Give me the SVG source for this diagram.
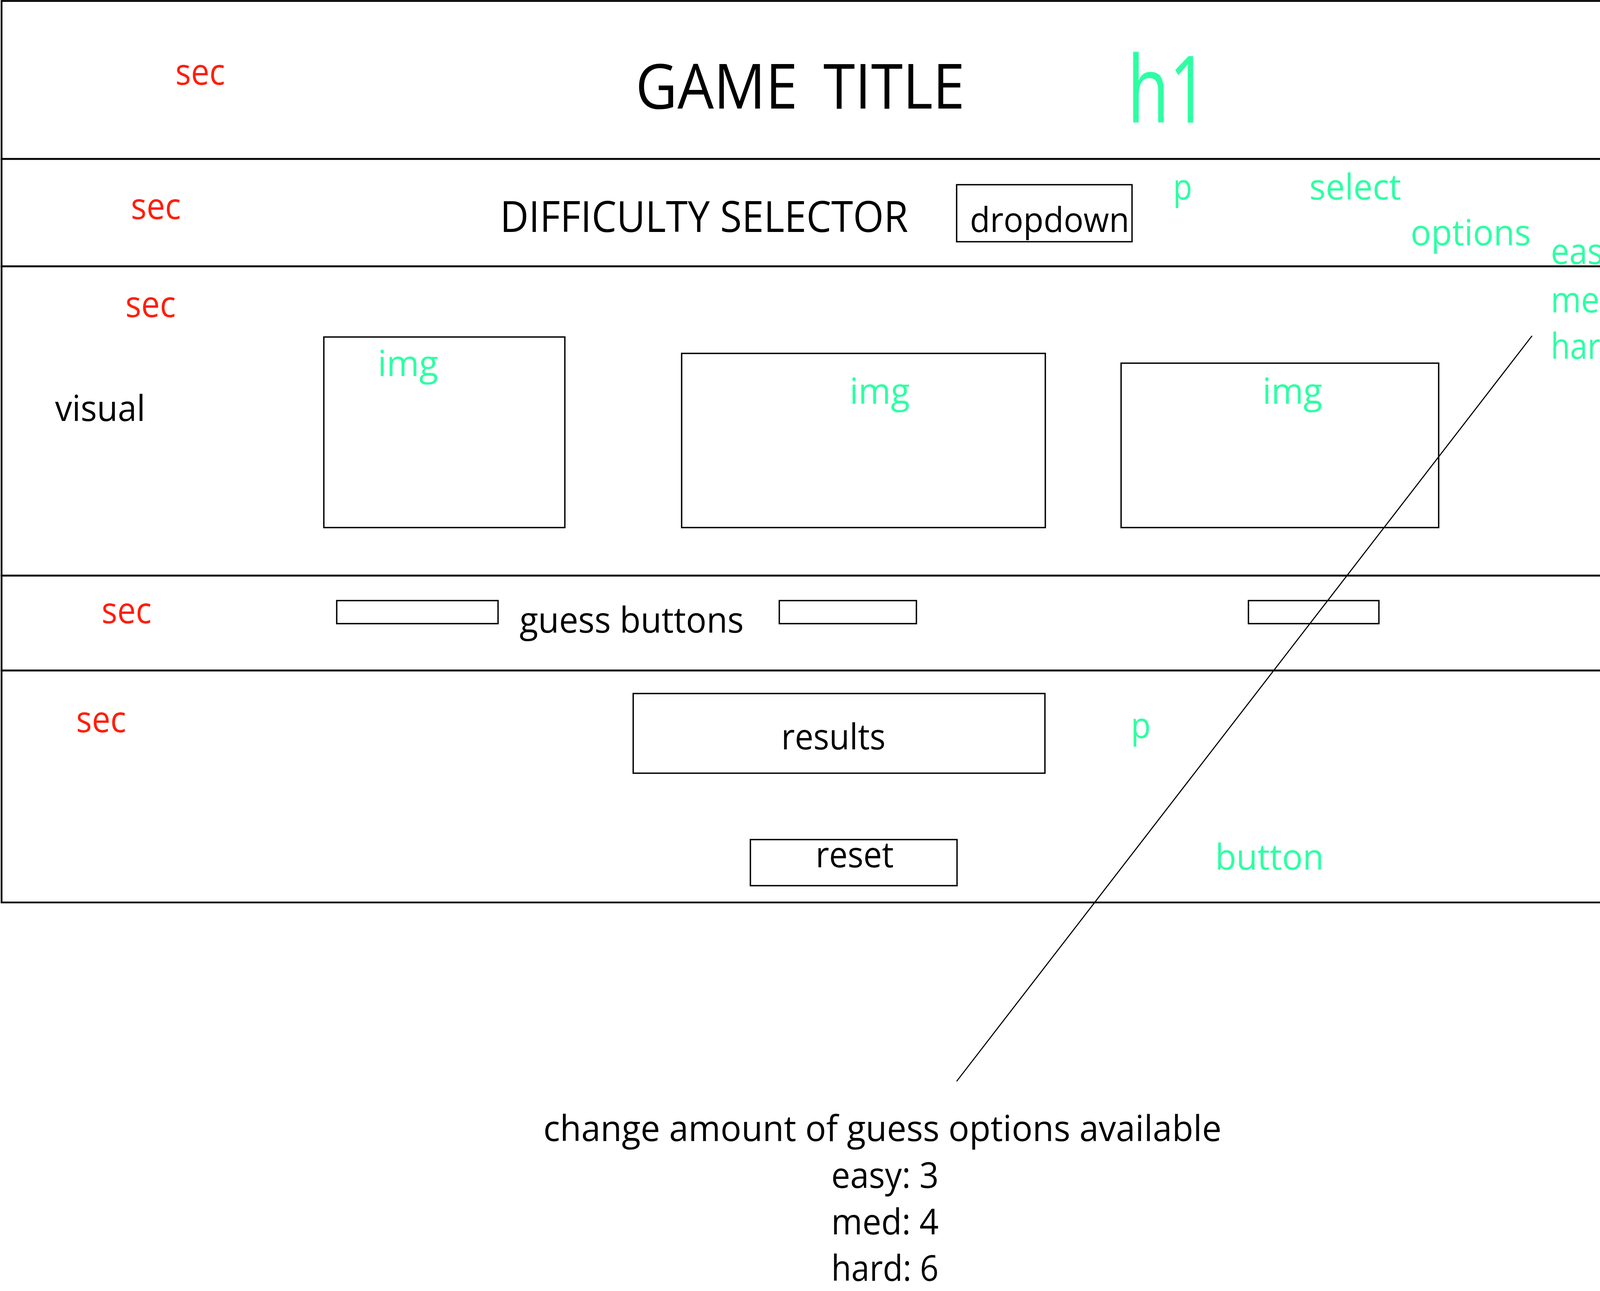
<svg xmlns="http://www.w3.org/2000/svg" width="4174" height="3306" viewBox="0 0 4174 3306">
<style>
text{font-family:"Open Sans","Noto Sans","DejaVu Sans",sans-serif;font-size:92px;fill:#000}
text.sec{fill:#FF1E0B;font-size:93px}
text.tag{fill:#2EFFA3}
text.title{font-size:160px}
text.h1{font-size:238px}
text.heading{font-size:109px}
text.small{font-size:87px}
.section{fill:none;stroke:#000;stroke-width:4.5}
.box{fill:none;stroke:#000;stroke-width:3.5}
.conn{fill:none;stroke:#000;stroke-width:2.8}
</style>
<rect width="4174" height="3306" fill="#fff"/>

<g id="section-title">
<rect class="section" x="4" y="2.5" width="4164" height="404.5"/>
<text class="sec" x="449" y="217" textLength="127" lengthAdjust="spacingAndGlyphs">sec</text>
<text class="title" x="1627" y="278" word-spacing="30" textLength="843" lengthAdjust="spacingAndGlyphs">GAME TITLE</text>
<text class="tag h1" x="2886" y="314" textLength="207" lengthAdjust="spacingAndGlyphs">h1</text>
</g>

<g id="section-difficulty">
<rect class="section" x="4" y="407" width="4164" height="275"/>
<text class="sec" x="335" y="561" textLength="128" lengthAdjust="spacingAndGlyphs">sec</text>
<text class="heading" x="1280" y="594" textLength="1045" lengthAdjust="spacingAndGlyphs">DIFFICULTY SELECTOR</text>
<g id="dropdown">
<rect class="box" x="2449" y="473" width="449" height="146"/>
<text class="small" x="2483" y="594" textLength="408" lengthAdjust="spacingAndGlyphs">dropdown</text>
</g>
<text class="tag" x="3003" y="511" textLength="49" lengthAdjust="spacingAndGlyphs">p</text>
<text class="tag" x="3352" y="511" textLength="235" lengthAdjust="spacingAndGlyphs">select</text>
<text class="tag" x="3611" y="628" textLength="308" lengthAdjust="spacingAndGlyphs">options</text>
<text class="tag" x="3970" y="676" textLength="176" lengthAdjust="spacingAndGlyphs">easy</text>
<text class="tag" x="3970" y="800" textLength="176" lengthAdjust="spacingAndGlyphs">med</text>
<text class="tag" x="3970" y="919" textLength="176" lengthAdjust="spacingAndGlyphs">hard</text>
</g>

<g id="section-visual">
<rect class="section" x="4" y="682" width="4164" height="792"/>
<text class="sec" x="321" y="812" textLength="129" lengthAdjust="spacingAndGlyphs">sec</text>
<text x="141" y="1078" textLength="231" lengthAdjust="spacingAndGlyphs">visual</text>
<g id="img1">
<rect class="box" x="829" y="863" width="617" height="488"/>
<text class="tag" x="967" y="963" textLength="155" lengthAdjust="spacingAndGlyphs">img</text>
</g>
<g id="img2">
<rect class="box" x="1745" y="905" width="931" height="446"/>
<text class="tag" x="2175" y="1034" textLength="154" lengthAdjust="spacingAndGlyphs">img</text>
</g>
<g id="img3">
<rect class="box" x="2870" y="930" width="813" height="421"/>
<text class="tag" x="3232" y="1034" textLength="153" lengthAdjust="spacingAndGlyphs">img</text>
</g>
</g>

<g id="section-guess">
<rect class="section" x="4" y="1474" width="4164" height="243"/>
<text class="sec" x="260" y="1596" textLength="128" lengthAdjust="spacingAndGlyphs">sec</text>
<rect class="box" x="862" y="1538" width="413" height="59"/>
<text x="1330" y="1620" textLength="574" lengthAdjust="spacingAndGlyphs">guess buttons</text>
<rect class="box" x="1995" y="1538" width="351" height="59"/>
<rect class="box" x="3196" y="1538" width="334" height="59"/>
</g>

<g id="section-results">
<rect class="section" x="4" y="1717" width="4164" height="594"/>
<text class="sec" x="195" y="1875" textLength="128" lengthAdjust="spacingAndGlyphs">sec</text>
<g id="results">
<rect class="box" x="1621" y="1776" width="1054" height="204"/>
<text x="2000" y="1919" textLength="267" lengthAdjust="spacingAndGlyphs">results</text>
</g>
<text class="tag" x="2895" y="1890" textLength="51" lengthAdjust="spacingAndGlyphs">p</text>
<g id="reset">
<rect class="box" x="1921" y="2150" width="529" height="118"/>
<text x="2088" y="2221" textLength="200" lengthAdjust="spacingAndGlyphs">reset</text>
</g>
<text class="tag" x="3111" y="2227" textLength="278" lengthAdjust="spacingAndGlyphs">button</text>
</g>

<g id="connectors">
<line class="conn" x1="3922" y1="860" x2="2449" y2="2769"/>
</g>

<g id="note">
<text x="1391" y="2922" textLength="1736" lengthAdjust="spacingAndGlyphs">change amount of guess options available</text>
<text x="2128" y="3042" textLength="275" lengthAdjust="spacingAndGlyphs">easy: 3</text>
<text x="2128" y="3161" textLength="275" lengthAdjust="spacingAndGlyphs">med: 4</text>
<text x="2128" y="3280" textLength="275" lengthAdjust="spacingAndGlyphs">hard: 6</text>
</g>
</svg>
